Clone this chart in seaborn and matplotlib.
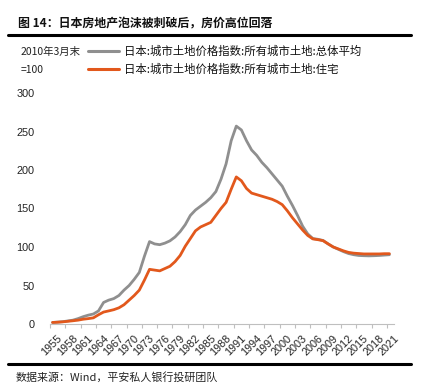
import matplotlib
matplotlib.use("Agg")
import matplotlib.pyplot as plt
import seaborn as sns
import pandas as pd
import numpy as np

years = list(range(1955, 2022))
avg_all = [2, 2.5, 3, 4, 5, 7, 9.5, 11.5, 13, 17,
           28, 31, 33, 37, 44, 50, 58, 67, 88, 107,
           104, 103, 105, 108, 113, 120, 129, 141, 148, 153,
           158, 164, 172, 188, 208, 238, 257, 252, 238, 226,
           219, 210, 203, 195, 187, 179, 166, 154, 141, 127,
           117, 111, 110, 108.5, 104, 100, 97, 94, 91.5, 90,
           89, 88.7, 88.5, 88.7, 89, 89.5, 90]
residential = [2, 2.3, 2.8, 3.5, 4.2, 5, 6.2, 7, 8, 12,
               15.5, 17, 18.6, 21, 25, 31, 37, 44, 57, 71,
               70, 69, 72, 75, 81, 89, 101, 111, 121, 126,
               129, 132, 141, 150, 158, 175, 191, 186, 176, 170,
               168, 166, 164, 162, 159, 155, 147, 138, 130, 122,
               115, 110.5, 109.5, 108.2, 104, 100, 97.5, 95, 93, 92,
               91.5, 91, 91, 91, 91, 91.3, 91.3]
label_avg = "日本:城市土地价格指数:所有城市土地:总体平均"
label_res = "日本:城市土地价格指数:所有城市土地:住宅"
title = "图 14：日本房地产泡沫被刺破后，房价高位回落"
unit_text = ["2010年3月末", "=100"]
source = "数据来源：Wind，平安私人银行投研团队"
tick_years = list(range(1955, 2022, 3))
yticks = [0, 50, 100, 150, 200, 250, 300]

sns.set_theme(style="white")
plt.rcParams['font.family'] = ['Liberation Sans', 'Noto Sans CJK SC', 'DejaVu Sans']
cjk = ['Noto Sans CJK SC', 'DejaVu Sans']

W, H = 425, 391
fig = plt.figure(figsize=(W / 100, H / 100), dpi=100)

def fx(px):
    return px / W

def fy(py):
    return 1 - py / H

ax = fig.add_axes([fx(50), fy(324), fx(394) - fx(50), fy(93) - fy(324)])

df = pd.DataFrame({"x": np.array(years) + 0.5, "avg": avg_all, "res": residential})
gray = "#8f8f8f"
orange = "#e2581c"
sns.lineplot(data=df, x="x", y="avg", ax=ax, color=gray, lw=2.0, solid_joinstyle="round")
sns.lineplot(data=df, x="x", y="res", ax=ax, color=orange, lw=2.0, solid_joinstyle="round")

ax.set_xlim(1955, 2022)
ax.set_ylim(0, 300)
ax.set_xlabel("")
ax.set_ylabel("")
ax.set_yticks(yticks)
ax.set_yticklabels([str(v) for v in yticks], fontsize=7.8, color="#222222")
ax.tick_params(axis="y", length=0, pad=11)

ax.set_xticks(tick_years)
ax.set_xticklabels([])
ax.set_xticks([y + 1.4 for y in tick_years], minor=True)
ax.set_xticklabels([str(y) for y in tick_years], minor=True, rotation=45,
                   ha="right", va="top", rotation_mode="anchor", fontsize=7.8, color="#222222")
ax.tick_params(axis="x", which="major", length=3, color="#bfbfbf", width=0.8, direction="out", bottom=True)
ax.tick_params(axis="x", which="minor", length=0, pad=6.5)

for s in ["left", "right", "top"]:
    ax.spines[s].set_visible(False)
ax.spines["bottom"].set_color("#bfbfbf")
ax.spines["bottom"].set_linewidth(0.8)
ax.grid(False)

# title and rules
fig.text(fx(18), fy(24), title, fontsize=8.6, fontweight="bold", family=cjk,
         ha="left", va="center", color="#111111")
fig.add_artist(plt.Line2D([fx(8), fx(411)], [fy(35), fy(35)], color="black", lw=2.2))
fig.add_artist(plt.Line2D([fx(8), fx(411)], [fy(364), fy(364)], color="black", lw=2.2))
fig.text(fx(16), fy(377), source, fontsize=7.9, family=cjk, ha="left", va="center", color="#222222")

# unit text and legend
fig.text(fx(21), fy(52), unit_text[0], fontsize=7.5, family=cjk, ha="left", va="center", color="#222222")
fig.text(fx(21), fy(70), unit_text[1], fontsize=7.5, family=cjk, ha="left", va="center", color="#222222")
fig.add_artist(plt.Line2D([fx(88), fx(119)], [fy(51), fy(51)], color=gray, lw=2.2))
fig.add_artist(plt.Line2D([fx(88), fx(119)], [fy(69), fy(69)], color=orange, lw=2.2))
fig.text(fx(124), fy(51), label_avg, fontsize=8.2, family=cjk, ha="left", va="center", color="#111111")
fig.text(fx(124), fy(69), label_res, fontsize=8.2, family=cjk, ha="left", va="center", color="#111111")

fig.savefig("out.png", dpi=100)
